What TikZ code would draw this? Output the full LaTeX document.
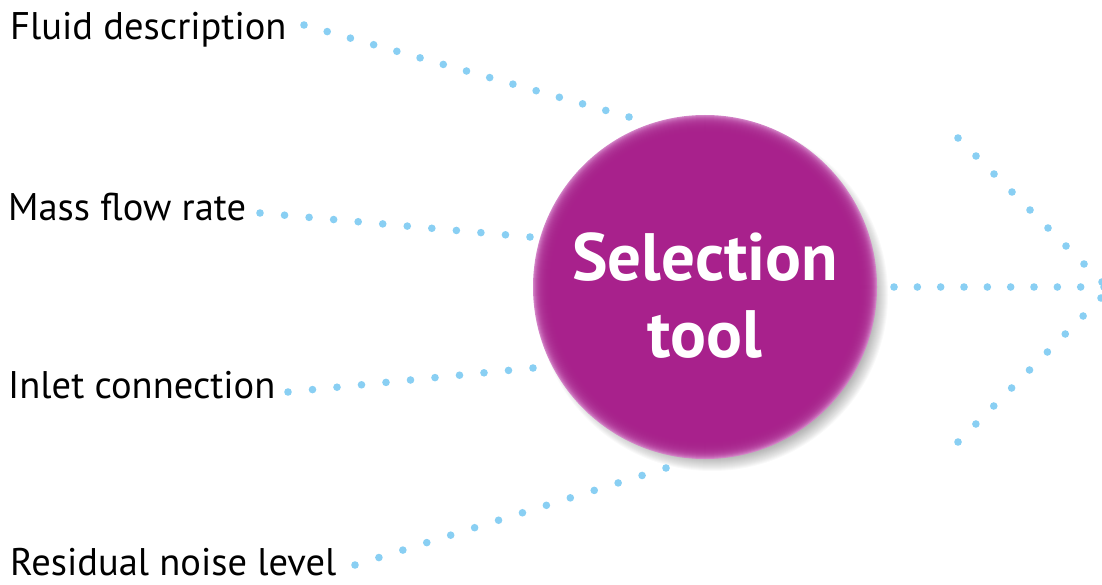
\documentclass[tikz,border=0pt]{standalone}
\usepackage{fontspec}
\setmainfont{PT Sans}
\usetikzlibrary{calc}
\definecolor{dotblue}{RGB}{137,207,243}
\definecolor{selmag}{RGB}{168,33,140}
\definecolor{selrim}{RGB}{210,130,198}
\newcommand\dotrow[3]{\foreach \k in {0,...,#3}{\fill[dotblue] ($(#1)!\k/#3!(#2)$) circle (3.8);}}
\tikzset{
  lbl/.style={anchor=base west, inner sep=0pt, font=\fontsize{38.5}{42}\selectfont, text=black},
  big/.style={anchor=base, inner sep=0pt, font=\bfseries\fontsize{67}{77}\selectfont, text=white}
}
\begin{document}
\begin{tikzpicture}[x=1pt,y=-1pt]
\useasboundingbox (0,0) rectangle (1102,585);
% labels
\node[lbl] (fluid) at (10,40) {Fluid description};
\node[lbl] (mass) at (8,221) {Mass flow rate};
\node[lbl] (inlet) at (8,398) {Inlet connection};
\node[lbl] (noise) at (10,575) {Residual noise level};
% shadow
\foreach \k in {0,...,19}{\fill[black,opacity=0.022] (712,295) circle ({176-\k});}
% circle with soft rim
\fill[selrim] (705,287) circle (172);
\foreach \k in {1,...,16}{\fill[selmag,opacity=0.2] (705,287) circle ({172-\k});}
\fill[selmag] (705,287) circle (155);
\node[circle, minimum size=344pt, inner sep=0pt] (circ) at (705,287) {};
\node[big] (sel) at (705,280) {Selection};
\node[big] (tool) at (705,357) {tool};
% dotted connectors
\coordinate (f1) at (304,25);  \coordinate (f2) at (629,117);
\coordinate (m1) at (260,213); \coordinate (m2) at (530,237);
\coordinate (i1) at (288,392); \coordinate (i2) at (533,368);
\coordinate (r1) at (355,565); \coordinate (r2) at (666,468);
\coordinate (o1) at (894,287); \coordinate (o2) at (1104,287);
\coordinate (u1) at (958,138); \coordinate (u2) at (1102,282);
\coordinate (l1) at (958,442); \coordinate (l2) at (1101,298);
\dotrow{f1}{f2}{14}
\dotrow{m1}{m2}{11}
\dotrow{i1}{i2}{10}
\dotrow{r1}{r2}{13}
\dotrow{o1}{o2}{9}
\dotrow{u1}{u2}{8}
\dotrow{l1}{l2}{8}
\end{tikzpicture}
\end{document}
